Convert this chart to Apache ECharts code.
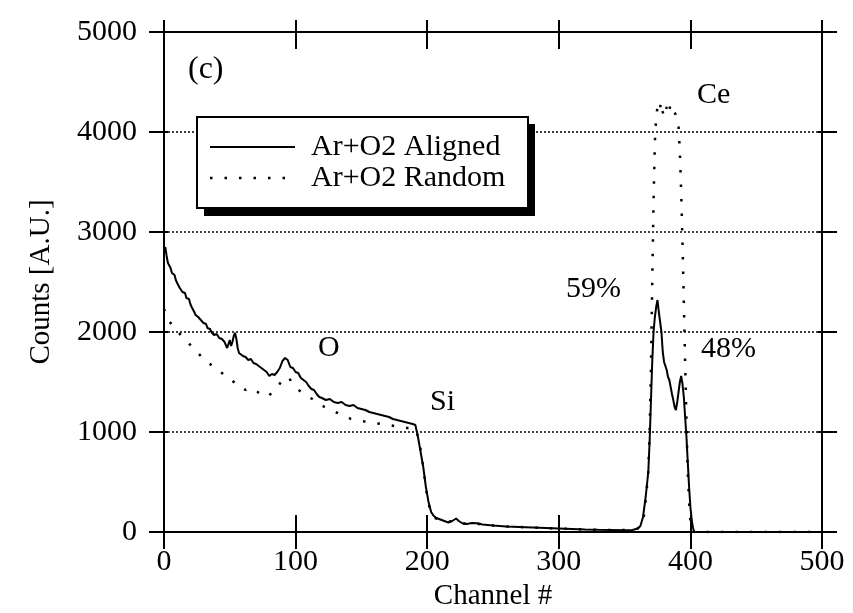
<!DOCTYPE html>
<html>
<head>
<meta charset="utf-8">
<script src="https://cdn.jsdelivr.net/npm/echarts@6/dist/echarts.min.js"></script>
<style>
  html, body { margin: 0; padding: 0; background: #fff; }
  #chart { width: 853px; height: 613px; }
</style>
</head>
<body>
<div id="chart"></div>
<script>
// RBS spectrum, panel (c)
const xTicks = [0, 100, 200, 300, 400, 500];
const yTicks = [0, 1000, 2000, 3000, 4000, 5000];

const alignedCh = [
  1, 2, 3, 4, 5, 6, 7, 8, 9, 10, 11, 12, 13, 14, 15, 16, 17, 18, 19, 20,
  21, 22, 23, 24, 25, 26, 27, 28, 29, 30, 31, 32, 33, 34, 35, 36, 38, 40, 42, 44,
  46, 47, 48, 49, 50, 51, 52, 53, 54, 55, 56, 57, 58, 60, 62, 64, 66, 68, 70, 72,
  74, 76, 78, 80, 82, 84, 86, 88, 90, 92, 93, 94, 96, 98, 100, 102, 104, 106, 108, 110,
  112, 114, 116, 118, 120, 123, 126, 129, 132, 135, 138, 141, 144, 147, 150, 153, 156, 159, 162, 165,
  168, 171, 174, 177, 180, 183, 186, 189, 191, 193, 195, 197, 199, 201, 203, 205, 207, 210, 213, 216,
  219, 222, 224, 227, 230, 234, 238, 242, 246, 250, 255, 260, 270, 280, 290, 300, 310, 320, 330, 340,
  350, 356, 360, 362, 364, 366, 368, 369, 370, 371, 372, 373, 374, 375, 376, 377, 378, 379, 380, 381,
  382, 383, 384, 385, 386, 387, 388, 389, 390, 391, 392, 393, 394, 395, 396, 397, 398, 399, 400, 401,
  402, 403, 420, 460, 500
];
const alignedCounts = [
  2850, 2760, 2690, 2700, 2640, 2590, 2600, 2570, 2520, 2490, 2470, 2440, 2450, 2400, 2380, 2390, 2340, 2320, 2330, 2280,
  2250, 2260, 2200, 2170, 2190, 2150, 2140, 2120, 2130, 2090, 2070, 2080, 2040, 2020, 2030, 2000, 1970, 1980, 1940, 1930,
  1900, 1870, 1840, 1880, 1920, 1860, 1900, 1960, 1990, 1930, 1840, 1790, 1770, 1760, 1750, 1720, 1730, 1690, 1680, 1660,
  1640, 1620, 1600, 1560, 1580, 1570, 1600, 1640, 1710, 1740, 1760, 1720, 1650, 1640, 1600, 1590, 1540, 1520, 1500, 1460,
  1430, 1420, 1380, 1350, 1340, 1320, 1330, 1300, 1290, 1300, 1270, 1260, 1270, 1240, 1230, 1220, 1200, 1190, 1180, 1170,
  1160, 1150, 1130, 1120, 1110, 1100, 1090, 1080, 1070, 950, 800, 650, 450, 300, 200, 160, 140, 125, 110, 95,
  110, 135, 110, 85, 80, 90, 88, 75, 70, 65, 60, 55, 50, 45, 40, 35, 30, 25, 22, 20,
  18, 20, 35, 60, 150, 350, 600, 900, 1300, 1700, 2000, 2150, 2250, 2320, 2200, 2100, 2000, 1800, 1700, 1680,
  1620, 1550, 1520, 1450, 1380, 1320, 1250, 1220, 1300, 1400, 1500, 1560, 1480, 1350, 1150, 950, 700, 450, 250, 120,
  40, 0, 0, 0, 0
];

const randomCh = [
  0, 2, 4, 6, 8, 10, 12, 15, 18, 20, 23, 26, 29, 32, 35, 38, 41, 44, 47, 50,
  53, 56, 59, 62, 65, 68, 71, 74, 77, 80, 83, 86, 89, 92, 95, 98, 101, 104, 107, 110,
  114, 118, 122, 126, 130, 134, 138, 142, 146, 150, 155, 160, 165, 170, 175, 180, 185, 190, 192, 194,
  196, 198, 200, 202, 204, 206, 210, 215, 220, 225, 230, 240, 250, 260, 280, 300, 320, 340, 356, 360,
  363, 365, 367, 368, 369, 370, 371, 372, 373, 374, 375, 376, 377, 378, 379, 380, 381, 382, 383, 384,
  385, 386, 387, 388, 389, 390, 391, 392, 393, 394, 395, 396, 397, 398, 399, 400, 401, 420, 460, 500
];
const randomCounts = [
  2230, 2150, 2100, 2080, 2050, 2010, 1980, 1940, 1900, 1870, 1830, 1790, 1740, 1700, 1680, 1640, 1620, 1590, 1560, 1540,
  1500, 1460, 1450, 1420, 1440, 1410, 1400, 1380, 1350, 1370, 1400, 1450, 1500, 1550, 1540, 1480, 1440, 1400, 1370, 1350,
  1320, 1280, 1250, 1220, 1200, 1180, 1160, 1130, 1120, 1110, 1100, 1090, 1080, 1070, 1060, 1050, 1040, 1040, 1000, 900,
  750, 550, 350, 230, 170, 140, 120, 100, 110, 95, 80, 80, 65, 55, 45, 35, 25, 20, 20, 35,
  80, 180, 450, 600, 1000, 1600, 2500, 3300, 3900, 4150, 4250, 4200, 4250, 4300, 4200, 4150, 4200, 4250, 4180, 4220,
  4280, 4250, 4220, 4200, 4170, 4150, 4050, 3800, 3400, 2900, 2300, 1700, 1100, 600, 300, 100, 0, 0, 0, 0
];

const FONT = '"Liberation Serif", "Times New Roman", serif';
const legendNames = ['Ar+O2 Aligned', 'Ar+O2 Random'];
const randomDash = [2.5, 12];

const toPairs = (xs, ys) => xs.map((x, i) => [x, ys[i]]);
const tick = (len, inside) => ({ show: true, inside: !!inside, length: len, lineStyle: { color: '#000', width: 2 } });
const blackLine = { show: true, onZero: false, lineStyle: { color: '#000', width: 2 } };
const noLine = { show: false, onZero: false };

const baseX = (extra) => Object.assign({
  type: 'value', min: xTicks[0], max: xTicks[xTicks.length - 1], interval: 100,
  axisLine: noLine,
  axisLabel: { show: false },
  splitLine: { show: false }
}, extra);

const baseY = (extra) => Object.assign({
  type: 'value', min: yTicks[0], max: yTicks[yTicks.length - 1], interval: 1000,
  axisLine: noLine,
  axisLabel: { show: false },
  splitLine: { show: false }
}, extra);

const chart = echarts.init(document.getElementById('chart'));

const gridBox = { left: 164, right: 31, top: 32, bottom: 81, outerBoundsMode: 'none', containLabel: false };

chart.setOption({
  animation: false,
  backgroundColor: '#fff',
  // second grid only carries the inner halves of the ticks
  grid: [Object.assign({}, gridBox), Object.assign({}, gridBox)],
  xAxis: [
    baseX({
      gridIndex: 0, position: 'bottom',
      name: 'Channel #', nameLocation: 'middle', nameGap: 50,
      nameTextStyle: { fontFamily: FONT, fontSize: 29, color: '#000' },
      axisLine: blackLine,
      axisTick: tick(17),
      axisLabel: { show: true, margin: 15, fontFamily: FONT, fontSize: 30, color: '#000' }
    }),
    baseX({ gridIndex: 0, position: 'top', axisLine: blackLine, axisTick: tick(12) }),
    baseX({ gridIndex: 1, position: 'bottom', axisTick: tick(17, true) }),
    baseX({ gridIndex: 1, position: 'top', axisTick: tick(17, true) })
  ],
  yAxis: [
    baseY({
      gridIndex: 0, position: 'left',
      name: 'Counts [A.U.]', nameLocation: 'middle', nameGap: 108,
      nameTextStyle: { fontFamily: FONT, fontSize: 29, color: '#000' },
      axisLine: blackLine,
      axisTick: tick(15),
      axisLabel: { show: true, margin: 27, fontFamily: FONT, fontSize: 30, color: '#000', formatter: (v) => String(v) },
      splitLine: { show: true, lineStyle: { color: '#000', width: 1.5, type: [2, 2] } }
    }),
    baseY({ gridIndex: 0, position: 'right', axisLine: blackLine, axisTick: tick(15) }),
    baseY({ gridIndex: 1, position: 'left', axisTick: tick(4, true) }),
    baseY({ gridIndex: 1, position: 'right', axisTick: tick(4, true) })
  ],
  graphic: [
    // legend box with its black drop shadow
    { type: 'rect', z: 5, shape: { x: 204, y: 124, width: 331, height: 92 }, style: { fill: '#000' } },
    { type: 'rect', z: 6, shape: { x: 197, y: 117, width: 331, height: 91 }, style: { fill: '#fff', stroke: '#000', lineWidth: 2 } },
    { type: 'line', z: 7, shape: { x1: 210, y1: 147, x2: 295, y2: 147 }, style: { stroke: '#000', lineWidth: 2 } },
    { type: 'line', z: 7, shape: { x1: 210, y1: 178, x2: 290, y2: 178 }, style: { stroke: '#000', lineWidth: 2.5, lineDash: randomDash } },
    { type: 'text', z: 7, x: 311, y: 147, style: { text: legendNames[0], font: '30px ' + FONT, fill: '#000', verticalAlign: 'middle' } },
    { type: 'text', z: 7, x: 311, y: 178, style: { text: legendNames[1], font: '30px ' + FONT, fill: '#000', verticalAlign: 'middle' } },
    // annotations
    { type: 'text', z: 10, left: 188, top: 54, style: { text: '(c)', font: '32px ' + FONT, fill: '#000' } },
    { type: 'text', z: 10, left: 697, top: 80, style: { text: 'Ce', font: '30px ' + FONT, fill: '#000' } },
    { type: 'text', z: 10, left: 566, top: 274, style: { text: '59%', font: '30px ' + FONT, fill: '#000' } },
    { type: 'text', z: 10, left: 701, top: 334, style: { text: '48%', font: '30px ' + FONT, fill: '#000' } },
    { type: 'text', z: 10, left: 318, top: 333, style: { text: 'O', font: '30px ' + FONT, fill: '#000' } },
    { type: 'text', z: 10, left: 430, top: 387, style: { text: 'Si', font: '30px ' + FONT, fill: '#000' } }
  ],
  series: [
    {
      name: legendNames[0],
      type: 'line',
      xAxisIndex: 0, yAxisIndex: 0,
      data: toPairs(alignedCh, alignedCounts),
      showSymbol: false,
      symbol: 'none',
      z: 4,
      lineStyle: { color: '#000', width: 2 }
    },
    {
      name: legendNames[1],
      type: 'line',
      xAxisIndex: 0, yAxisIndex: 0,
      data: toPairs(randomCh, randomCounts),
      showSymbol: false,
      symbol: 'none',
      z: 3,
      lineStyle: { color: '#000', width: 2.5, type: randomDash }
    }
  ]
});
</script>
</body>
</html>
